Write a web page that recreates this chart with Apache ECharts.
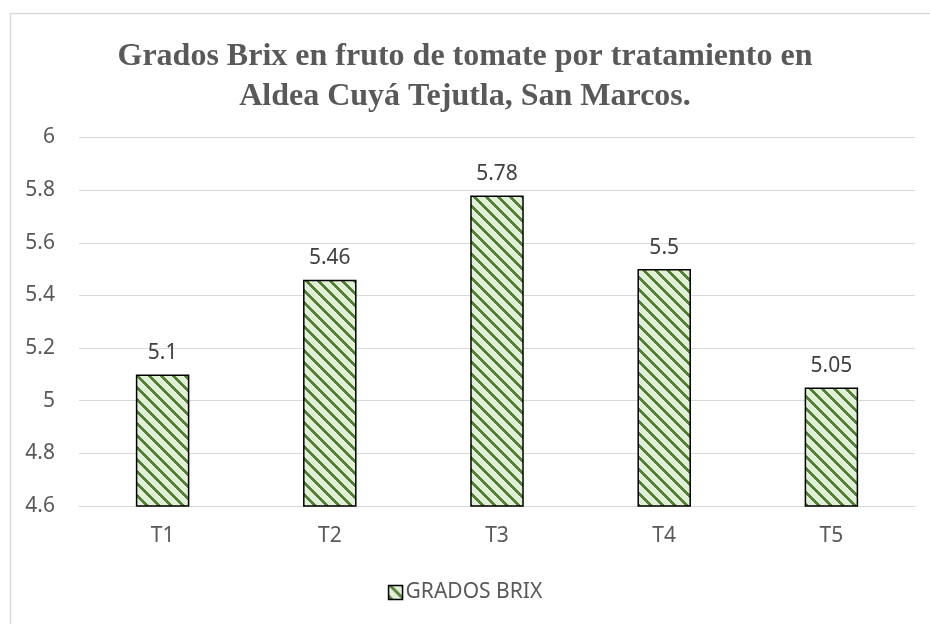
<!DOCTYPE html>
<html>
<head>
<meta charset="utf-8">
<script src="https://cdn.jsdelivr.net/npm/echarts@6/dist/echarts.min.js"></script>
<style>
  html, body {margin: 0; padding: 0; background: #fff;}
  #chart {width: 930px; height: 624px;}
</style>
</head>
<body>
<div id="chart"></div>
<script>
// data
const categories = ['T1', 'T2', 'T3', 'T4', 'T5'];
const brixValues = [5.1, 5.46, 5.78, 5.5, 5.05];
const seriesName = 'GRADOS BRIX';
const titleText = 'Grados Brix en fruto de tomate por tratamiento en\nAldea Cuyá Tejutla, San Marcos.';

// striped fill, like the excel "wide downward diagonal"
const makePattern = () => {
  const size = 12;
  const cv = document.createElement('canvas');
  cv.width = size;
  cv.height = size;
  const ctx = cv.getContext('2d');
  ctx.fillStyle = '#e2f0d9';
  ctx.fillRect(0, 0, size, size);
  ctx.fillStyle = '#548235';
  for (let y = 0; y < size; y++) {
    for (let x = 0; x < size; x++) {
      if ((((x - y) % size) + size) % size < 4) ctx.fillRect(x, y, 1, 1);
    }
  }
  return cv;
};

const stripes = {image: makePattern(), repeat: 'repeat'};
const textFont = "'Noto Sans', sans-serif";

let chart = echarts.init(document.getElementById('chart'), null, {renderer: 'canvas'});
chart.setOption({
  backgroundColor: '#fff',
  animation: false,
  graphic: [{
    type: 'rect',
    left: 8, top: 11,
    shape: {width: 940, height: 640},
    style: {fill: 'none', stroke: '#d9d9d9', lineWidth: 1.5}
  }],
  title: {
    text: titleText,
    left: 'center',
    top: 32,
    textStyle: {
      fontFamily: "'Liberation Serif', 'Times New Roman', serif",
      fontWeight: 'bold',
      fontSize: 32,
      lineHeight: 40,
      color: '#595959'
    }
  },
  legend: {
    data: [{name: seriesName, icon: 'rect'}],
    bottom: 16,
    left: 'center',
    itemWidth: 14,
    itemHeight: 14,
    itemGap: 4,
    itemStyle: {borderColor: '#000', borderWidth: 1.5},
    textStyle: {fontFamily: textFont, fontSize: 21, color: '#595959', padding: [0, 0, 0, -2]}
  },
  grid: {left: 79, right: 15, top: 137.5, bottom: 118, containLabel: false},
  xAxis: {
    type: 'category',
    data: categories,
    axisLine: {show: true, lineStyle: {color: '#d9d9d9', width: 1}},
    axisTick: {show: false},
    axisLabel: {fontFamily: textFont, fontSize: 21, color: '#595959', margin: 20}
  },
  yAxis: {
    type: 'value',
    min: 4.6,
    max: 6,
    interval: 0.2,
    axisLine: {show: false},
    axisTick: {show: false},
    splitLine: {lineStyle: {color: '#d9d9d9', width: 1}},
    axisLabel: {
      fontFamily: textFont, fontSize: 21, color: '#595959', margin: 24,
      formatter: v => String(Math.round(v * 10) / 10)
    }
  },
  series: [{
    name: seriesName,
    type: 'bar',
    data: brixValues,
    barWidth: '32%',
    itemStyle: {color: stripes, borderColor: '#000', borderWidth: 1.5},
    label: {
      show: true,
      position: 'top',
      distance: 11,
      fontFamily: textFont,
      fontSize: 21,
      color: '#404040'
    }
  }]
});
</script>
</body>
</html>
